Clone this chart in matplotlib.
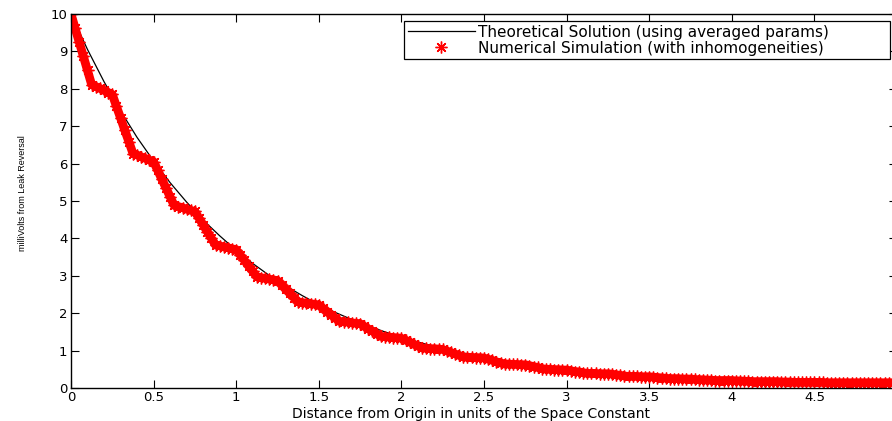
import numpy as np
import matplotlib
matplotlib.use("Agg")
import matplotlib.pyplot as plt

# theoretical curve read at every 0.1 space constants
x_theory = np.linspace(0, 5, 51)
v_theory = [10.00, 9.05, 8.19, 7.41, 6.70, 6.07, 5.49, 4.97, 4.49, 4.07,
            3.68, 3.33, 3.01, 2.73, 2.47, 2.23, 2.02, 1.83, 1.66, 1.50,
            1.36, 1.23, 1.11, 1.01, 0.91, 0.83, 0.75, 0.68, 0.62, 0.56,
            0.51, 0.46, 0.42, 0.38, 0.35, 0.32, 0.29, 0.27, 0.24, 0.23,
            0.21, 0.19, 0.18, 0.17, 0.16, 0.15, 0.15, 0.14, 0.14, 0.14,
            0.14]

# numerical simulation read at every 0.025 space constants
x_sim = np.linspace(0, 5, 201)
v_sim = [10.00, 9.62, 9.24, 8.87, 8.49, 8.11, 8.06, 8.01, 7.96, 7.90,
         7.85, 7.53, 7.22, 6.90, 6.59, 6.27, 6.23, 6.18, 6.14, 6.09,
         6.05, 5.82, 5.58, 5.35, 5.11, 4.88, 4.85, 4.82, 4.78, 4.75,
         4.72, 4.54, 4.36, 4.18, 4.00, 3.82, 3.80, 3.77, 3.75, 3.72,
         3.70, 3.55, 3.41, 3.26, 3.12, 2.97, 2.95, 2.93, 2.91, 2.89,
         2.87, 2.76, 2.64, 2.53, 2.41, 2.30, 2.28, 2.27, 2.25, 2.24,
         2.22, 2.13, 2.04, 1.96, 1.87, 1.78, 1.77, 1.76, 1.74, 1.73,
         1.72, 1.65, 1.58, 1.52, 1.45, 1.38, 1.37, 1.36, 1.35, 1.34,
         1.33, 1.28, 1.23, 1.17, 1.12, 1.07, 1.06, 1.05, 1.05, 1.04,
         1.03, 0.99, 0.95, 0.91, 0.87, 0.83, 0.82, 0.82, 0.81, 0.81,
         0.80, 0.77, 0.74, 0.70, 0.67, 0.64, 0.64, 0.63, 0.63, 0.62,
         0.62, 0.60, 0.57, 0.55, 0.52, 0.50, 0.50, 0.49, 0.49, 0.48,
         0.48, 0.46, 0.44, 0.43, 0.41, 0.39, 0.39, 0.39, 0.38, 0.38,
         0.38, 0.37, 0.35, 0.34, 0.32, 0.31, 0.31, 0.31, 0.30, 0.30,
         0.30, 0.29, 0.28, 0.27, 0.26, 0.25, 0.25, 0.25, 0.24, 0.24,
         0.24, 0.23, 0.22, 0.22, 0.21, 0.21, 0.20, 0.20, 0.20, 0.20,
         0.20, 0.19, 0.19, 0.18, 0.18, 0.17, 0.17, 0.17, 0.17, 0.17,
         0.17, 0.17, 0.16, 0.16, 0.16, 0.15, 0.15, 0.15, 0.15, 0.15,
         0.15, 0.15, 0.15, 0.14, 0.14, 0.14, 0.14, 0.14, 0.14, 0.14,
         0.14, 0.14, 0.14, 0.14, 0.14, 0.14, 0.14, 0.14, 0.14, 0.14,
         0.14]

x_ticks = [0, 0.5, 1, 1.5, 2, 2.5, 3, 3.5, 4, 4.5]
x_tick_labels = ["0", "0.5", "1", "1.5", "2", "2.5", "3", "3.5", "4", "4.5"]
y_ticks = list(range(0, 11))

W, H = 892, 421
fig = plt.figure(figsize=(W / 100, H / 100), dpi=100)
# axes runs out past the right edge of the picture (cropped MATLAB figure)
ax = fig.add_axes([71 / W, (H - 388) / H, 826 / W, 374 / H])

ax.plot(x_theory, v_theory, color="black", lw=0.9,
        label="Theoretical Solution (using averaged params)")
# the stars sit so close together they merge into a band
ax.plot(x_sim, v_sim, color="red", lw=6.3, solid_capstyle="round",
        solid_joinstyle="round")
ax.plot(x_sim, v_sim, ls="none", marker=(8, 2, 0), ms=8.5, mew=1.0,
        color="red", label="Numerical Simulation (with inhomogeneities)")

ax.set_xlim(0, 5)
ax.set_ylim(0, 10)
ax.set_xticks(x_ticks)
ax.set_xticklabels(x_tick_labels)
ax.set_yticks(y_ticks)
ax.tick_params(direction="in", length=5.5, width=0.8, labelsize=9.5,
               top=True, right=True, pad=2.5)
for sp in ax.spines.values():
    sp.set_linewidth(1.0)
    sp.set_color("black")

ax.set_xlabel("Distance from Origin in units of the Space Constant",
              fontsize=10)
ax.xaxis.set_label_coords((471 - 71) / 826, -0.05)
ax.set_ylabel("milliVolts from Leak Reversal", fontsize=6.5,
              family="Liberation Sans")
ax.yaxis.set_label_coords(-(71 - 27) / 826, 0.52)

# legend box spans x 404..890, y 21..58 in the reference
leg = ax.legend(loc="upper left",
                bbox_to_anchor=(404 / W, (H - 58) / H, 486 / W, 37 / H),
                bbox_transform=fig.transFigure, mode="expand",
                fontsize=11, handlelength=4.4, handletextpad=0.2,
                labelspacing=0.05, borderpad=0.25, borderaxespad=0,
                fancybox=False, framealpha=1, edgecolor="black")
leg.get_frame().set_linewidth(0.9)

fig.savefig("out.png", dpi=100)
